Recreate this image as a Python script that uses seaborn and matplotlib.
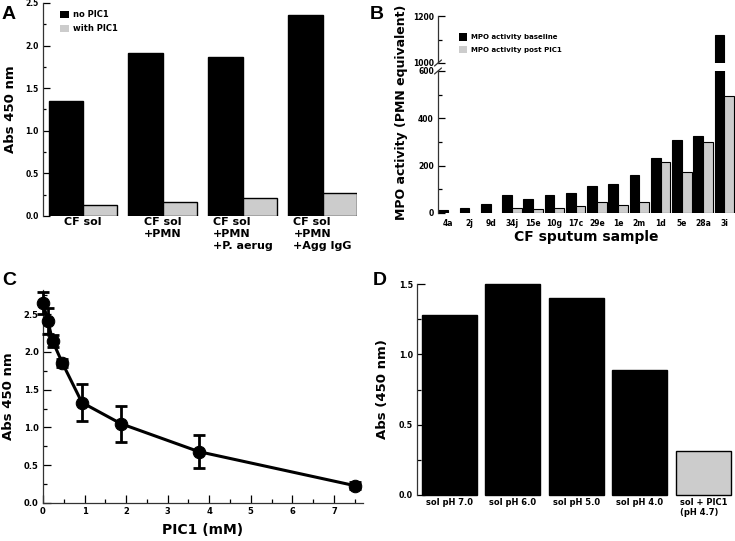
import matplotlib
matplotlib.use("Agg")
import matplotlib.pyplot as plt
import seaborn as sns
import numpy as np
import pandas as pd
from matplotlib.patches import Patch
from matplotlib.ticker import MultipleLocator, FixedLocator

sns.set_theme(style="ticks")
plt.rcParams['font.family'] = ['DejaVu Sans']
plt.rcParams['font.weight'] = 'bold'
plt.rcParams['axes.labelweight'] = 'bold'
plt.rcParams['axes.edgecolor'] = '#333333'
plt.rcParams['axes.linewidth'] = 0.9
plt.rcParams['text.color'] = 'black'
plt.rcParams['axes.labelcolor'] = 'black'
plt.rcParams['xtick.color'] = 'black'
plt.rcParams['ytick.color'] = 'black'

# ---------------- Data ----------------
# Panel A
a_conditions = ["CF sol", "CF sol\n+PMN", "CF sol\n+PMN\n+P. aerug", "CF sol\n+PMN\n+Agg IgG"]
a_no_pic1 = [1.35, 1.91, 1.87, 2.36]
a_with_pic1 = [0.13, 0.16, 0.21, 0.27]
a_series = ["no PIC1", "with PIC1"]

# Panel B
b_samples = ["4a", "2j", "9d", "34j", "15e", "10g", "17c", "29e", "1e", "2m", "1d", "5e", "28a", "3i"]
b_baseline = [11, 21, 39, 76, 59, 74, 86, 114, 121, 161, 232, 307, 327, 1120]
b_post = [np.nan, np.nan, np.nan, 20, 15, 22, 28, 46, 32, 46, 216, 175, 299, 493]
b_series = ["MPO activity baseline", "MPO activity post PIC1"]

# Panel C
c_pic1_mM = [0.0, 0.117, 0.234, 0.469, 0.9375, 1.875, 3.75, 7.5]
c_abs = [2.65, 2.41, 2.14, 1.85, 1.33, 1.05, 0.68, 0.23]
c_err = [0.15, 0.17, 0.08, 0.05, 0.25, 0.24, 0.22, 0.05]

# Panel D
d_conditions = ["sol pH 7.0", "sol pH 6.0", "sol pH 5.0", "sol pH 4.0", "sol + PIC1\n(pH 4.7)"]
d_abs = [1.28, 1.50, 1.40, 0.89, 0.315]

BLACK = "#000000"
GRAY = "#cccccc"
W, H = 735, 541


def px_axes(fig, left, top, right, bottom):
    return fig.add_axes([left / W, 1 - bottom / H, (right - left) / W, (bottom - top) / H])


fig = plt.figure(figsize=(W / 100, H / 100), dpi=100)

# ---------------- Panel A ----------------
axA = px_axes(fig, 43, 3, 357, 216)
dfA = pd.DataFrame({
    "condition": a_conditions * 2,
    "value": a_no_pic1 + a_with_pic1,
    "series": [a_series[0]] * 4 + [a_series[1]] * 4,
})
sns.barplot(data=dfA, x="condition", y="value", hue="series", palette=[BLACK, GRAY],
            width=0.86, edgecolor="black", linewidth=1, saturation=1, ax=axA)
axA.set_xlim(-0.5, 3.43)
axA.set_ylim(0, 2.5)
axA.yaxis.set_major_locator(MultipleLocator(0.5))
axA.yaxis.set_minor_locator(MultipleLocator(0.25))
axA.yaxis.set_major_formatter(matplotlib.ticker.FormatStrFormatter('%.1f'))
for s in ["top", "right", "bottom"]:
    axA.spines[s].set_visible(False)
axA.tick_params(axis="y", which="major", direction="in", length=5, width=0.9, labelsize=5.5, pad=3)
axA.tick_params(axis="y", which="minor", direction="in", length=2.5, width=0.9)
axA.tick_params(axis="x", length=0, labelsize=8, pad=1)
for t in axA.get_xticklabels():
    t.set_ha("center")
    t.set_multialignment("left")
axA.set_xlabel("")
axA.set_ylabel("Abs 450 nm", fontsize=9.5, labelpad=6)
axA.legend(handles=[Patch(fc=BLACK, ec="none"), Patch(fc=GRAY, ec="none")], labels=a_series,
           loc="upper left", bbox_to_anchor=(0.055, 0.965), frameon=False, fontsize=6,
           handlelength=1.0, handleheight=0.9, handletextpad=0.5, labelspacing=0.55,
           borderaxespad=0, borderpad=0)

# ---------------- Panel B ----------------
dfB = pd.DataFrame({
    "sample": b_samples * 2,
    "value": b_baseline + b_post,
    "series": [b_series[0]] * len(b_samples) + [b_series[1]] * len(b_samples),
})
axBt = px_axes(fig, 438, 16, 735, 63)
axBb = px_axes(fig, 438, 71, 735, 213)
for ax in (axBt, axBb):
    sns.barplot(data=dfB, x="sample", y="value", hue="series", palette=[BLACK, GRAY],
                width=0.92, edgecolor="black", linewidth=0.8, saturation=1, ax=ax, legend=False)
    ax.set_xlim(-0.48, 13.5)
    ax.set_xlabel("")
    ax.set_ylabel("")
    for s in ["top", "right", "bottom"]:
        ax.spines[s].set_visible(False)
    ax.tick_params(axis="y", which="major", direction="in", length=5, width=0.9, labelsize=5.5, pad=3)
    ax.tick_params(axis="y", which="minor", direction="in", length=3, width=0.9)
axBt.set_ylim(1000, 1200)
axBt.yaxis.set_major_locator(FixedLocator([1000, 1200]))
axBt.yaxis.set_minor_locator(FixedLocator([1100]))
axBt.tick_params(axis="x", length=0, labelbottom=False)
axBb.set_ylim(0, 600)
axBb.yaxis.set_major_locator(FixedLocator([0, 200, 400, 600]))
axBb.yaxis.set_minor_locator(FixedLocator([100, 300, 500]))
axBb.tick_params(axis="x", length=0, labelsize=5.5, pad=4)
axBb.set_xlabel("CF sputum sample", fontsize=10, labelpad=2)
# break marks
dx = 3.5 / 297
axBt.plot([-dx, dx], [-3 / 47, 3 / 47], transform=axBt.transAxes, color="#333333", lw=0.9, clip_on=False)
axBb.plot([-dx, dx], [1 - 3 / 142, 1 + 3 / 142], transform=axBb.transAxes, color="#333333", lw=0.9, clip_on=False)
fig.text(402 / W, 1 - 112 / H, "MPO activity (PMN equivalent)", rotation=90, fontsize=9,
         fontweight="bold", ha="center", va="center")
fig.legend(handles=[Patch(fc=BLACK, ec="none"), Patch(fc=GRAY, ec="none")], labels=b_series,
           loc="upper left", bbox_to_anchor=(459 / W, 1 - 33 / H), frameon=False, fontsize=5,
           handlelength=1.2, handleheight=1.3, handletextpad=0.5, labelspacing=0.75,
           borderaxespad=0, borderpad=0)

# ---------------- Panel C ----------------
axC = px_axes(fig, 43, 290, 363, 503)
dfC = pd.DataFrame({"pic1": c_pic1_mM, "abs": c_abs, "err": c_err})
sns.lineplot(data=dfC, x="pic1", y="abs", marker="o", markersize=9, color="black",
             linewidth=2.2, markeredgecolor="black", ax=axC, clip_on=False, zorder=3)
axC.errorbar(dfC["pic1"], dfC["abs"], yerr=dfC["err"], fmt="none", ecolor="black",
             elinewidth=2, capsize=4, capthick=2, clip_on=False, zorder=3)
axC.set_xlim(0, 7.7)
axC.set_ylim(0, 2.82)
axC.xaxis.set_major_locator(MultipleLocator(1))
axC.xaxis.set_minor_locator(MultipleLocator(0.5))
axC.yaxis.set_major_locator(MultipleLocator(0.5))
axC.yaxis.set_minor_locator(MultipleLocator(0.25))
axC.yaxis.set_major_formatter(matplotlib.ticker.FormatStrFormatter('%.1f'))
for s in ["top", "right"]:
    axC.spines[s].set_visible(False)
axC.tick_params(which="major", direction="in", length=6, width=0.9, labelsize=6, pad=3)
axC.tick_params(which="minor", direction="in", length=3, width=0.9)
axC.set_xlabel("PIC1 (mM)", fontsize=10, labelpad=5)
axC.set_ylabel("Abs 450 nm", fontsize=9.5, labelpad=6)

# ---------------- Panel D ----------------
axD = px_axes(fig, 417, 284, 735, 495)
dfD = pd.DataFrame({"condition": d_conditions, "abs": d_abs})
sns.barplot(data=dfD, x="condition", y="abs", hue="condition",
            palette=[BLACK, BLACK, BLACK, BLACK, GRAY], width=0.87, edgecolor="black",
            linewidth=1, saturation=1, legend=False, ax=axD)
axD.set_xlim(-0.51, 4.5)
axD.set_ylim(0, 1.5)
for p in axD.patches:
    p.set_clip_on(False)
axD.yaxis.set_major_locator(MultipleLocator(0.5))
axD.yaxis.set_minor_locator(MultipleLocator(0.25))
axD.yaxis.set_major_formatter(matplotlib.ticker.FormatStrFormatter('%.1f'))
for s in ["top", "right", "bottom"]:
    axD.spines[s].set_visible(False)
axD.tick_params(axis="y", which="major", direction="in", length=6, width=0.9, labelsize=5.8, pad=3)
axD.tick_params(axis="y", which="minor", direction="in", length=3, width=0.9)
axD.tick_params(axis="x", length=0, labelsize=6, pad=2)
for t in axD.get_xticklabels():
    t.set_multialignment("left")
axD.set_xlabel("")
axD.set_ylabel("Abs (450 nm)", fontsize=9.5, labelpad=7)

# ---------------- Panel letters ----------------
for lab, x, y in [("A", 2, 6), ("B", 370, 6), ("C", 2, 272), ("D", 373, 272)]:
    fig.text(x / W, 1 - y / H, lab, fontsize=14, fontweight="bold",
             family=["Liberation Sans", "DejaVu Sans"], ha="left", va="top")

fig.savefig("out.png", dpi=100)
